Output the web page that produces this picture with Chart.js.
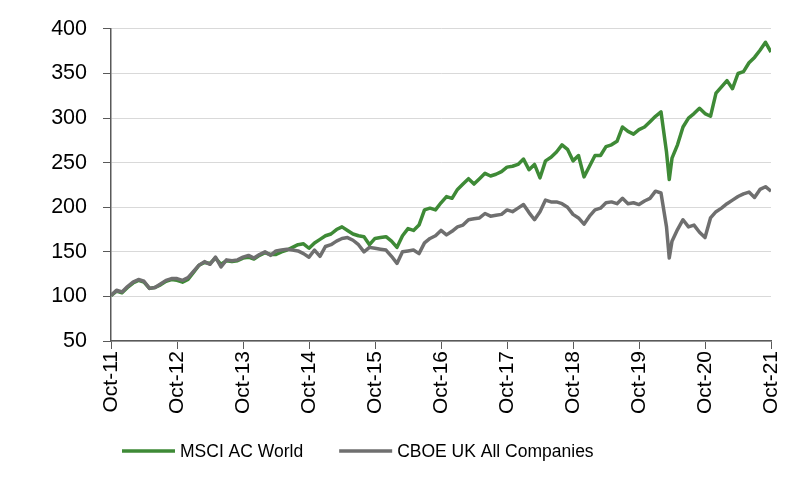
<!DOCTYPE html>
<html>
<head>
<meta charset="utf-8">
<script src="https://cdn.jsdelivr.net/npm/chart.js@4"></script>
<style>
  body { margin: 0; background: #fff; }
  #wrap { width: 800px; height: 483px; position: relative; }
</style>
</head>
<body>
<div id="wrap"><canvas id="chart"></canvas></div>
<script>
// month offsets from Oct-11 (extra point in the covid trough)
const months = [];
for (let m = 0; m <= 101; m++) months.push(m);
months.push(101.5);
for (let m = 102; m <= 120; m++) months.push(m);

const seriesNames = ['MSCI AC World', 'CBOE UK All Companies'];
const tickLabels = ['Oct-11', 'Oct-12', 'Oct-13', 'Oct-14', 'Oct-15', 'Oct-16', 'Oct-17', 'Oct-18', 'Oct-19', 'Oct-20', 'Oct-21'];

const msciWorld = [
  101, 106, 104, 110, 115, 118, 116, 109, 110, 113,
  117, 119, 118, 116, 119, 127, 135, 138, 137, 143,
  136, 140, 139, 140, 143, 144, 142, 146, 149, 147,
  147, 150, 152, 155, 158, 159, 154, 160, 164, 168,
  170, 175, 178, 174, 170, 168, 167, 158, 165, 166,
  167, 162, 155, 168, 176, 174, 180, 197, 199, 197,
  205, 212, 210, 220, 226, 232, 226, 232, 238, 235,
  237, 240, 245, 246, 248, 254, 242, 248, 233, 252,
  256, 262, 270, 265, 252, 258, 234, 246, 258, 258,
  268, 270, 274, 290, 285, 282, 287, 290, 296, 302,
  307, 262, 231, 255,
  270, 290, 300, 305, 311, 305, 302,
  328, 335, 342, 333, 350, 352, 362, 368, 376, 385, 374
];

const cboeUk = [
  101, 107, 105, 111, 116, 119, 117, 109, 110, 114,
  118, 120, 120, 118, 121, 128, 135, 139, 136, 144,
  133, 141, 140, 141, 144, 146, 143, 147, 150, 146,
  151, 152, 153, 152, 151, 148, 144, 152, 145, 156,
  158, 162, 165, 166, 163, 158, 150, 155, 154, 153,
  152, 145, 137, 150, 151, 152, 148, 160, 165, 168,
  174, 169, 173, 178, 180, 186, 187, 188, 193, 190,
  191, 192, 197, 195, 199, 203, 194, 186, 195, 208,
  206, 206, 204, 200, 192, 188, 181, 190, 197, 199,
  205, 206, 204, 210, 204, 205, 203, 207, 210, 218,
  216, 178, 143, 162,
  175, 186, 178, 180, 172, 166, 188,
  195, 199, 204, 208, 212, 215, 217, 211, 220, 223, 218
];

const COLORS = ['#3e8a36', '#6f6f6f'];
const FONT = "'Liberation Sans', Arial, sans-serif";

const toPoints = vals => vals.map((v, i) => ({ x: months[i], y: v }));

// legend drawn under the plot, like the excel original
const bottomLegend = {
  id: 'bottomLegend',
  afterDraw(chart) {
    const ctx = chart.ctx;
    ctx.save();
    ctx.font = '17.5px ' + FONT;
    ctx.textBaseline = 'middle';
    let x = 122;
    const y = 451;
    chart.data.datasets.forEach((ds, i) => {
      ctx.strokeStyle = ds.borderColor;
      ctx.lineWidth = 3.5;
      ctx.beginPath();
      ctx.moveTo(x, y);
      ctx.lineTo(x + 53, y);
      ctx.stroke();
      ctx.fillStyle = '#000';
      ctx.fillText(ds.label, x + 58, y + 1);
      x += 58 + ctx.measureText(ds.label).width + 36;
    });
    ctx.restore();
  }
};

new Chart(document.getElementById('chart').getContext('2d'), {
  type: 'line',
  data: {
    datasets: [
      { label: seriesNames[0], data: toPoints(msciWorld), borderColor: COLORS[0], backgroundColor: COLORS[0], order: 2 },
      { label: seriesNames[1], data: toPoints(cboeUk), borderColor: COLORS[1], backgroundColor: COLORS[1], order: 1 }
    ]
  },
  options: {
    responsive: true,
    maintainAspectRatio: false,
    animation: false,
    layout: { padding: { top: 18, right: 29, left: 0, bottom: 0 } },
    elements: {
      line: { borderWidth: 3.5, tension: 0, borderJoinStyle: 'round' },
      point: { radius: 0 }
    },
    plugins: {
      legend: { display: false },
      tooltip: { enabled: false }
    },
    scales: {
      x: {
        type: 'linear',
        min: 0,
        max: 120,
        afterFit: s => { s.height = 142; },
        afterBuildTicks: s => { s.ticks = tickLabels.map((_, i) => ({ value: i * 12 })); },
        ticks: {
          autoSkip: false,
          minRotation: 90,
          maxRotation: 90,
          padding: 2,
          color: '#000',
          font: { family: FONT, size: 21 },
          callback: v => tickLabels[v / 12]
        },
        grid: { drawOnChartArea: false, tickLength: 8, tickColor: '#595959' },
        border: { color: '#595959', width: 1.5 }
      },
      y: {
        min: 50,
        max: 400,
        afterFit: s => { s.width = 111; },
        ticks: {
          stepSize: 50,
          padding: 16,
          color: '#000',
          font: { family: FONT, size: 21.5 }
        },
        grid: { color: '#d9d9d9', tickLength: 8, tickColor: '#595959' },
        border: { color: '#595959', width: 1.5 }
      }
    }
  },
  plugins: [bottomLegend]
});
</script>
</body>
</html>
